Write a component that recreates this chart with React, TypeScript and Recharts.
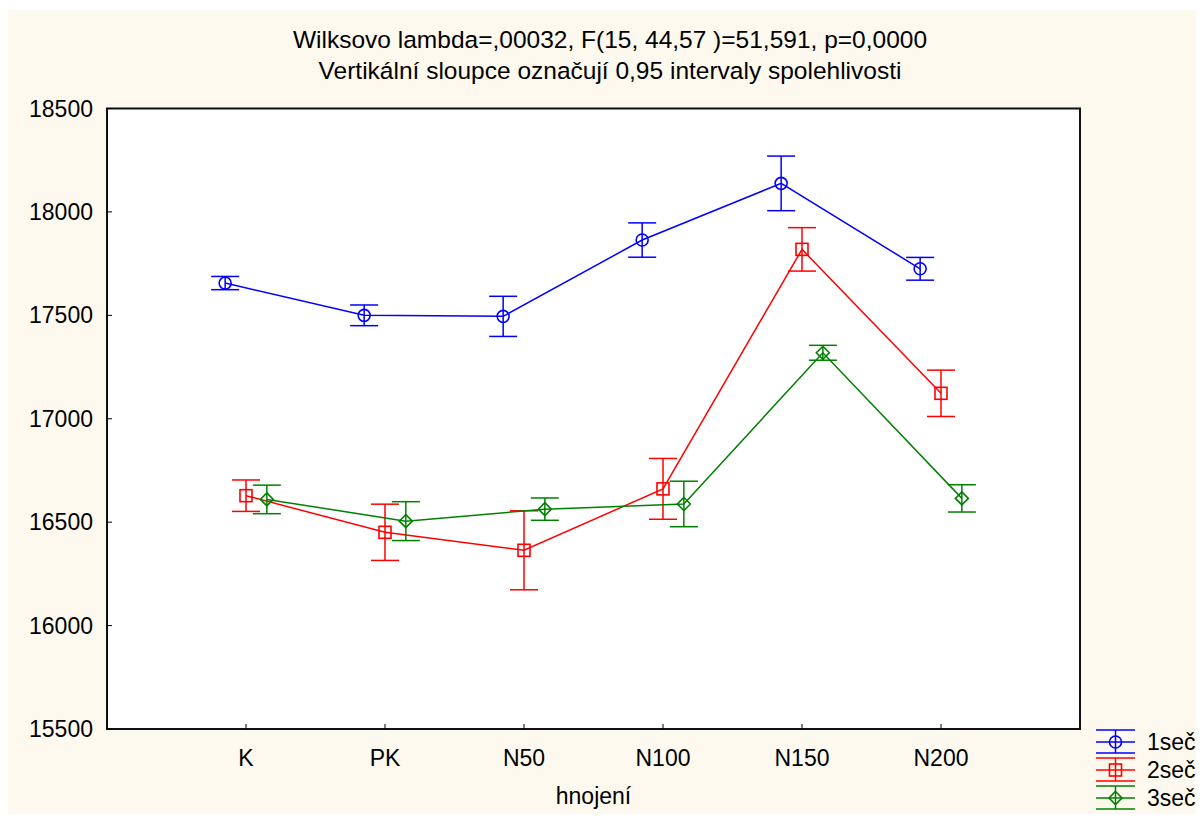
import {
  CartesianGrid,
  ErrorBar,
  Line,
  LineChart,
  ReferenceArea,
  XAxis,
  YAxis,
} from "recharts";

const categories = ["K", "PK", "N50", "N100", "N150", "N200"];

// means and half-widths of the 0.95 confidence intervals
const mean1 = [17656, 17500, 17495, 17864, 18138, 17725];
const ci1 = [32, 50, 97, 83, 132, 55];
const mean2 = [16628, 16451, 16364, 16661, 17819, 17123];
const ci2 = [76, 136, 191, 147, 105, 112];
const mean3 = [16610, 16505, 16563, 16588, 17319, 16615];
const ci3 = [69, 94, 54, 110, 36, 66];

const yTicks = [15500, 16000, 16500, 17000, 17500, 18000, 18500];
const titleLines = [
  "Wilksovo lambda=,00032, F(15, 44,57 )=51,591, p=0,0000",
  "Vertikální sloupce označují 0,95 intervaly spolehlivosti",
];

const FONT = '"Liberation Sans", Arial, Helvetica, sans-serif';
const BG = "#fdf9ef";
const W = 1196;
const H = 806;

type Shape = "circle" | "square" | "diamond";

const series: {
  name: string;
  color: string;
  shape: Shape;
  offset: number;
  mean: number[];
  ci: number[];
}[] = [
  { name: "1seč", color: "#0000ff", shape: "circle", offset: -0.15, mean: mean1, ci: ci1 },
  { name: "2seč", color: "#ff0000", shape: "square", offset: 0, mean: mean2, ci: ci2 },
  { name: "3seč", color: "#008000", shape: "diamond", offset: 0.15, mean: mean3, ci: ci3 },
];

const toData = (mean: number[], ci: number[], offset: number) =>
  mean.map((m, i) => ({ x: i + 1 + offset, y: m, err: ci[i] }));

const Marker = ({ cx, cy, color, shape }: { cx?: number; cy?: number; color: string; shape: Shape }) => {
  if (cx == null || cy == null) return null;
  const common = { fill: "none", stroke: color, strokeWidth: 1.6 };
  if (shape === "circle") return <circle cx={cx} cy={cy} r={6} {...common} />;
  if (shape === "square") return <rect x={cx - 6} y={cy - 6} width={12} height={12} {...common} />;
  return (
    <polygon
      points={`${cx},${cy - 6.5} ${cx + 6.5},${cy} ${cx},${cy + 6.5} ${cx - 6.5},${cy}`}
      {...common}
    />
  );
};

const App = () => {
  return (
    <div style={{ position: "relative", top: 2, width: W, height: H, background: BG, fontFamily: FONT }}>
      <div style={{ position: "absolute", left: 0, top: 0 }}>
        <LineChart width={W} height={H} margin={{ top: 98.5, right: 124, left: 0, bottom: 0 }}>
          <rect x={99} y={98.5} width={973} height={620.5} fill="#fff" />
          <CartesianGrid stroke="#e2e2e2" strokeWidth={1.5} fill="#ffffff" />
          <XAxis
            dataKey="x"
            type="number"
            domain={[0, 7]}
            ticks={[1, 2, 3, 4, 5, 6]}
            tickFormatter={(v: number) => categories[v - 1] ?? ""}
            height={87}
            tickSize={-5}
            tickMargin={26}
            axisLine={false}
            tickLine={{ stroke: "#000" }}
            tick={{ fill: "#000", fontSize: 23, fontFamily: FONT }}
            label={{ value: "hnojení", position: "insideBottom", offset: 12, fill: "#000", fontSize: 23, fontFamily: FONT }}
            allowDuplicatedCategory={false}
          />
          <YAxis
            type="number"
            domain={[15500, 18500]}
            ticks={yTicks}
            width={99}
            tickSize={-5}
            tickMargin={19}
            axisLine={false}
            tickLine={{ stroke: "#000" }}
            tick={{ fill: "#000", fontSize: 23, fontFamily: FONT }}
          />
          {series.map((s) => (
            <Line
              key={s.name}
              data={toData(s.mean, s.ci, s.offset)}
              dataKey="y"
              name={s.name}
              stroke={s.color}
              strokeWidth={1.5}
              isAnimationActive={false}
              activeDot={false}
              dot={(p: any) => <Marker key={`${s.name}-${p.index}`} cx={p.cx} cy={p.cy} color={s.color} shape={s.shape} />}
            >
              <ErrorBar dataKey="err" direction="y" width={14} stroke={s.color} strokeWidth={1.5} isAnimationActive={false} />
            </Line>
          ))}
          <ReferenceArea x1={0} x2={7} y1={15500} y2={18500} fill="none" stroke="#111" strokeWidth={2} ifOverflow="visible" />
        </LineChart>
      </div>
      <svg width={W} height={H} style={{ position: "absolute", left: 0, top: 0, pointerEvents: "none" }}>
        {titleLines.map((t, i) => (
          <text key={t} x={602} y={38 + i * 31} textAnchor="middle" fontSize={24.5} fontFamily={FONT} fill="#000">
            {t}
          </text>
        ))}
        {series.map((s, i) => {
          const cy = 732 + i * 28;
          const x0 = 1088;
          const x1 = 1127;
          const cx = (x0 + x1) / 2;
          return (
            <g key={s.name}>
              <line x1={x0} x2={x1} y1={cy - 12} y2={cy - 12} stroke={s.color} strokeWidth={1.5} />
              <line x1={x0} x2={x1} y1={cy} y2={cy} stroke={s.color} strokeWidth={1.5} />
              <line x1={x0} x2={x1} y1={cy + 11} y2={cy + 11} stroke={s.color} strokeWidth={1.5} />
              <line x1={cx} x2={cx} y1={cy - 12} y2={cy + 11} stroke={s.color} strokeWidth={1.5} />
              <Marker cx={cx} cy={cy} color={s.color} shape={s.shape} />
              <text x={1139} y={cy + 8} fontSize={23} fontFamily={FONT} fill="#000">
                {s.name}
              </text>
            </g>
          );
        })}
      </svg>
    </div>
  );
};

export default App;
